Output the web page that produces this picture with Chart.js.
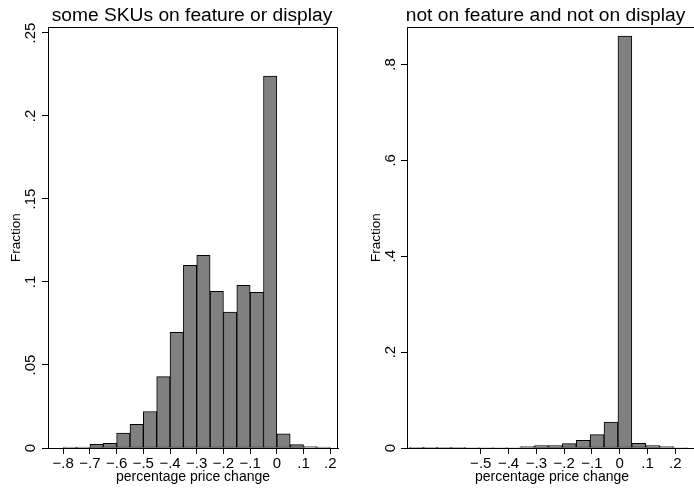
<!DOCTYPE html>
<html>
<head>
<meta charset="utf-8">
<script src="https://cdn.jsdelivr.net/npm/chart.js@4/dist/chart.umd.min.js"></script>
<style>
  html, body { margin: 0; padding: 0; background: #fff; overflow: hidden; }
  #wrap { position: relative; width: 694px; height: 488px; overflow: hidden; background: #fff; }
  #wrap canvas { position: absolute; top: 0; }
  #promo { left: 0; }
  #regular { left: 350px; }
  .panel-title {
    position: absolute; top: 2.5px; width: 400px; height: 23px; line-height: 23px;
    text-align: center; white-space: nowrap; color: #000;
    font-family: "Liberation Sans", Arial, Helvetica, sans-serif; font-size: 19.2px;
  }
  #promo-title { left: -8px; }
  #regular-title { left: 345.5px; }
</style>
</head>
<body>
<div id="wrap">
  <canvas id="promo" width="384" height="488"></canvas>
  <canvas id="regular" width="390" height="488"></canvas>
  <div class="panel-title" id="promo-title">some SKUs on feature or display</div>
  <div class="panel-title" id="regular-title">not on feature and not on display</div>
</div>
<script>
// Histogram bins are 0.05 wide; each panel lists the lower edge of its first bin
const BIN_WIDTH = 0.05;

// Panel 1: weeks where some SKUs are on feature or display
const promoBinStart = -0.8;
const promoFraction = [0.0006, 0.0006, 0.0022, 0.0028, 0.009, 0.0143, 0.022, 0.043, 0.0697, 0.110,
                       0.116, 0.0944, 0.0819, 0.098, 0.0938, 0.224, 0.0086, 0.002, 0.0008, 0.0006];
const promoXTicks = [-0.8, -0.7, -0.6, -0.5, -0.4, -0.3, -0.2, -0.1, 0, 0.1, 0.2];
const promoYTicks = [0, 0.05, 0.1, 0.15, 0.2, 0.25];

// Panel 2: weeks with nothing on feature and nothing on display
const regularBinStart = -0.7565;
const regularFraction = [0.0002, 0.0006, 0.0006, 0.0002, 0.001, 0.001, 0.001, 0.001, 0.003, 0.005,
                         0.005, 0.009, 0.016, 0.028, 0.054, 0.859, 0.010, 0.005, 0.003, 0.001];
const regularXTicks = [-0.5, -0.4, -0.3, -0.2, -0.1, 0, 0.1, 0.2];
const regularYTicks = [0, 0.2, 0.4, 0.6, 0.8];

const FONT = '"Liberation Sans", Arial, Helvetica, sans-serif';

// Stata-style numbers: no leading zero, true minus sign
function fmt(v) {
  if (Math.abs(v) < 1e-9) return '0';
  const s = String(Number(Math.abs(v).toFixed(3))).replace(/^0\./, '.');
  return (v < 0 ? '\u2212' : '') + s;
}

function binPoints(start, fractions) {
  return fractions.map((f, i) => ({ x: start + (i + 0.5) * BIN_WIDTH, y: f }));
}

// Closes the plot region with a top and right edge
const frameLines = {
  id: 'frameLines',
  afterDatasetsDraw(chart) {
    const { ctx, chartArea: a } = chart;
    ctx.save();
    ctx.strokeStyle = '#000';
    ctx.lineWidth = 1;
    ctx.beginPath();
    ctx.moveTo(a.left, Math.round(a.top) + 0.5);
    ctx.lineTo(Math.round(a.right) - 0.5, Math.round(a.top) + 0.5);
    ctx.lineTo(Math.round(a.right) - 0.5, a.bottom);
    ctx.stroke();
    ctx.restore();
  }
};

function histogram(id, p) {
  const axisGrid = { drawOnChartArea: false, drawTicks: true, tickLength: 6, color: '#000', offset: false };
  const axisBorder = { display: true, color: '#000', width: 1 };
  return new Chart(document.getElementById(id), {
    type: 'bar',
    data: {
      datasets: [{
        data: binPoints(p.binStart, p.fractions),
        backgroundColor: '#808080',
        borderColor: '#000',
        borderWidth: 1,
        borderSkipped: false,
        barPercentage: 1,
        categoryPercentage: 1
      }]
    },
    options: {
      responsive: false,
      animation: false,
      devicePixelRatio: 1,
      layout: { padding: { left: 0, right: p.padRight, top: 27, bottom: 0 } },
      plugins: {
        legend: { display: false },
        tooltip: { enabled: false },
        title: { display: false }
      },
      scales: {
        x: {
          type: 'linear',
          min: p.xMin,
          max: p.xMax,
          offset: false,
          grid: axisGrid,
          border: axisBorder,
          afterBuildTicks: s => { s.ticks = p.xTicks.map(v => ({ value: v })); },
          afterFit: s => { s.height = 40; },
          ticks: {
            autoSkip: false, maxRotation: 0, minRotation: 0, padding: 0.5,
            color: '#000', font: { family: FONT, size: 15 },
            callback: v => fmt(v)
          },
          title: {
            display: true, text: 'percentage price change', color: '#000',
            font: { family: FONT, size: 14 }, padding: { top: 0, bottom: 2.6 }
          }
        },
        y: {
          type: 'linear',
          min: 0,
          max: p.yMax,
          grid: axisGrid,
          border: axisBorder,
          afterBuildTicks: s => { s.ticks = p.yTicks.map(v => ({ value: v })); },
          afterFit: s => { s.width = p.yWidth; },
          ticks: {
            autoSkip: false, minRotation: 90, maxRotation: 90, crossAlign: 'center',
            padding: p.yTickPad, color: '#000', font: { family: FONT, size: 15 },
            callback: v => fmt(v)
          },
          title: {
            display: true, text: 'Fraction', color: '#000',
            font: { family: FONT, size: 13.5 }, padding: { top: p.yTitlePad, bottom: 0 }
          }
        }
      }
    },
    plugins: [frameLines]
  });
}

histogram('promo', {
  binStart: promoBinStart, fractions: promoFraction,
  xTicks: promoXTicks, yTicks: promoYTicks,
  xMin: -0.857, xMax: 0.229, yMax: 0.2536,
  yWidth: 48, padRight: 46, yTickPad: 0.6, yTitlePad: 8.5
});

histogram('regular', {
  binStart: regularBinStart, fractions: regularFraction,
  xTicks: regularXTicks, yTicks: regularYTicks,
  xMin: -0.7653, xMax: 0.2779, yMax: 0.878,
  yWidth: 57, padRight: 43, yTickPad: 3.75, yTitlePad: 18.5
});
</script>
</body>
</html>
